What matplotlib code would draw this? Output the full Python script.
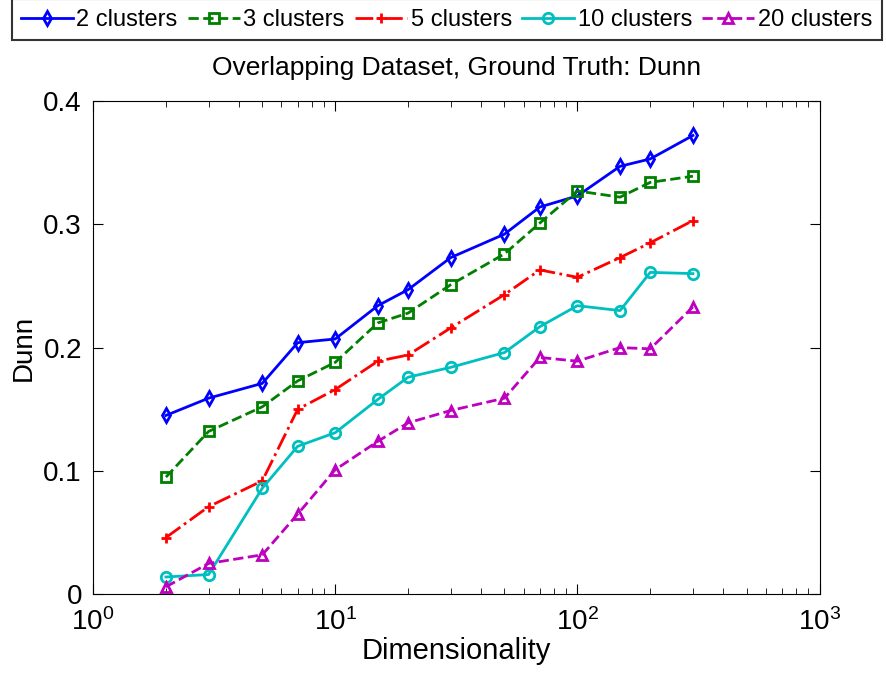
import matplotlib
matplotlib.use('Agg')
from matplotlib import pyplot as plt

plt.rcParams['font.family'] = ['Liberation Sans', 'DejaVu Sans']

dims = [2, 3, 5, 7, 10, 15, 20, 30, 50, 70, 100, 150, 200, 300]
c2 = [0.145, 0.159, 0.171, 0.204, 0.207, 0.234, 0.247, 0.273, 0.292, 0.314, 0.323, 0.347, 0.353, 0.372]
c3 = [0.095, 0.132, 0.152, 0.173, 0.188, 0.220, 0.228, 0.251, 0.276, 0.301, 0.327, 0.322, 0.334, 0.339]
c5 = [0.046, 0.071, 0.092, 0.150, 0.166, 0.189, 0.194, 0.216, 0.243, 0.263, 0.257, 0.273, 0.285, 0.303]
c10 = [0.014, 0.016, 0.086, 0.120, 0.131, 0.158, 0.176, 0.184, 0.196, 0.217, 0.234, 0.230, 0.261, 0.260]
c20 = [0.006, 0.025, 0.032, 0.065, 0.101, 0.124, 0.139, 0.149, 0.159, 0.192, 0.189, 0.200, 0.199, 0.233]

series = [
    ('2 clusters', c2, '#0000ff', '-', 'd'),
    ('3 clusters', c3, '#007f00', '--', 's'),
    ('5 clusters', c5, '#ff0000', '-.', '+'),
    ('10 clusters', c10, '#00bfbf', '-', 'o'),
    ('20 clusters', c20, '#bf00bf', '--', '^'),
]

fig = plt.figure(figsize=(8.86, 6.73), dpi=100)
ax = fig.add_axes([0.105, 0.117, 0.82, 0.733])

for label, vals, col, ls, mk in series:
    ax.plot(dims, vals, color=col, linestyle=ls, marker=mk, markersize=7.5,
            markerfacecolor='none', markeredgewidth=2, linewidth=2, label=label)

ax.set_xscale('log')
ax.set_xlim(1, 1000)
ax.set_ylim(0, 0.4)
ax.set_yticks([0, 0.1, 0.2, 0.3, 0.4])
ax.set_yticklabels(['0', '0.1', '0.2', '0.3', '0.4'])
ax.tick_params(which='both', direction='in', top=True, right=True, labelsize=20)
ax.tick_params(axis='x', pad=10)
ax.tick_params(axis='y', pad=8)
ax.tick_params(which='major', length=7)
ax.tick_params(which='minor', length=4)
ax.set_title('Overlapping Dataset, Ground Truth: Dunn', fontsize=19, pad=19)
ax.set_xlabel('Dimensionality', fontsize=21, labelpad=1)
ax.set_ylabel('Dunn', fontsize=20, labelpad=5)

leg = fig.legend(loc='lower left', bbox_to_anchor=(0.013, 0.94, 0.982, 0.055), mode='expand',
                 ncol=5, fontsize=17, handlelength=2.2,
                 columnspacing=0.3, handletextpad=0.15, borderpad=0.4, borderaxespad=0,
                 fancybox=False, edgecolor='black')
leg.get_frame().set_linewidth(1.5)

plt.savefig('out.png', dpi=100)
